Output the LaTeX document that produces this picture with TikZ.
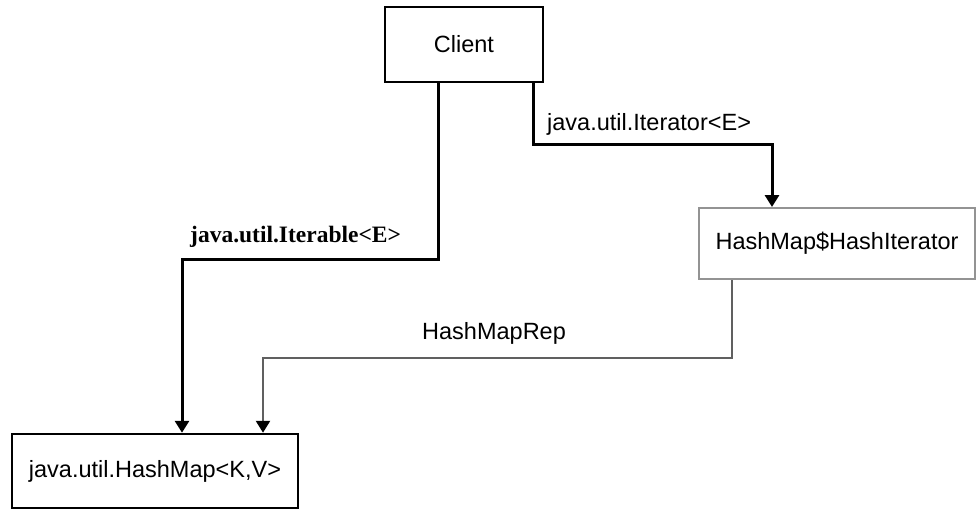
\documentclass[tikz,border=0pt]{standalone}
\usepackage{fontspec}
\setmainfont{Liberation Sans}
\newfontfamily\labelserif{Liberation Serif}
\usetikzlibrary{arrows.meta}
\begin{document}
\fontsize{23.5}{27}\selectfont
\begin{tikzpicture}[x=1pt,y=-1pt,>={Triangle[width=14pt,length=12pt,color=black]},
 box/.style={draw=black,line width=2.5pt,fill=white,inner sep=0pt},
 greybox/.style={draw=gray!85,line width=2pt,fill=white,inner sep=0pt},
 link/.style={->,line width=3pt,black},
 greylink/.style={->,line width=2.5pt,gray!75!black}]
\useasboundingbox(0,0) rectangle (977,512);
\node[box,minimum width=158pt,minimum height=75pt](client) at (464,44.5){Client};
\node[box,minimum width=286pt,minimum height=74pt](map) at (155,471){java.util.HashMap<K,V>};
\node[greybox,minimum width=276pt,minimum height=71pt](iter) at (837,243.5){HashMap\$HashIterator};
\draw[link]([xshift=-26pt]client.south)--++(0,176)-|([xshift=27pt]map.north);
\draw[link]([xshift=69pt]client.south)--++(0,61)-|([xshift=-65pt]iter.north);
\draw[greylink]([xshift=-105pt]iter.south)--++(0,78)-|([xshift=108pt]map.north);
\node[anchor=base west,inner sep=0pt](iterable) at (190,242){\labelserif\bfseries java.util.Iterable{\textless}E{\textgreater}};
\node[anchor=base west,inner sep=0pt](iterator) at (547,130){java.util.Iterator<E>};
\node[anchor=base west,inner sep=0pt](rep) at (422,339){HashMapRep};
\end{tikzpicture}
\end{document}
